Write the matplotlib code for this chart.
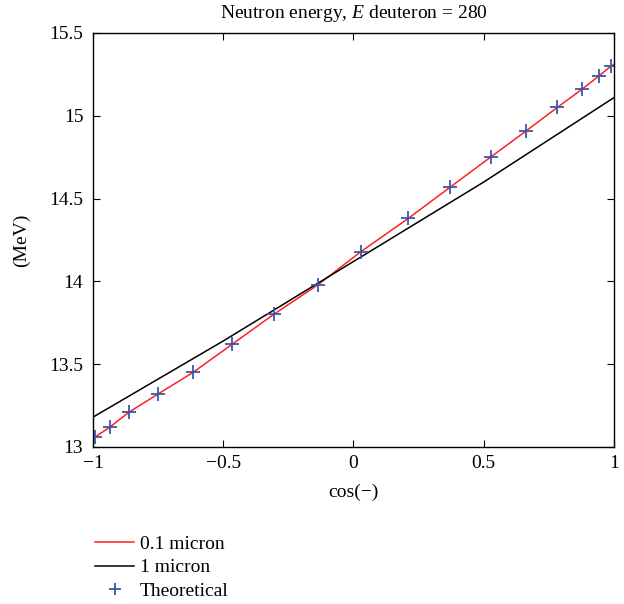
import numpy as np
from matplotlib import pyplot as plt

plt.rcParams['font.family'] = ['Liberation Serif', 'DejaVu Serif']
plt.rcParams['mathtext.fontset'] = 'custom'
plt.rcParams['mathtext.it'] = 'Liberation Serif:italic'
plt.rcParams['mathtext.rm'] = 'Liberation Serif'

# theoretical points (cos of angle, neutron energy in MeV)
cos_theo = [-0.992, -0.935, -0.862, -0.750, -0.616, -0.466, -0.307, -0.136, 0.029,
            0.210, 0.372, 0.526, 0.664, 0.782, 0.877, 0.942, 0.988]
E_theo = [13.06, 13.12, 13.21, 13.32, 13.45, 13.62, 13.80, 13.98, 14.18,
          14.38, 14.57, 14.75, 14.91, 15.05, 15.16, 15.24, 15.30]

# 0.1 micron target
cos_thin = [-1.0] + cos_theo + [1.0]
E_thin = [13.05] + E_theo + [15.31]

# 1 micron target
cos_thick = [-1.0, -0.5, 0.0, 0.5, 1.0]
E_thick = [13.18, 13.64, 14.12, 14.60, 15.11]

fs = 14

fig = plt.figure(figsize=(6.24, 6.04), dpi=100)
ax = fig.add_axes([0.149, 0.260, 0.835, 0.6854])

l1, = ax.plot(cos_thin, E_thin, color='#ff2020', lw=1.1, label='0.1 micron')
l2, = ax.plot(cos_thick, E_thick, color='black', lw=1.1, label='1 micron')
l3, = ax.plot(cos_theo, E_theo, ls='none', marker='+', ms=10, mew=1.3,
              color='#3a56a8', label='Theoretical')

ax.set_xlim(-1, 1)
ax.set_ylim(13, 15.5)
ax.set_xticks([-1, -0.5, 0, 0.5, 1])
ax.set_xticklabels(['\u22121', '\u22120.5', '0', '0.5', '1'])
ax.set_yticks([13, 13.5, 14, 14.5, 15, 15.5])
ax.set_yticklabels(['13', '13.5', '14', '14.5', '15', '15.5'])
ax.tick_params(direction='in', top=True, right=True, length=5, labelsize=fs)
ax.tick_params(axis='y', pad=7)
ax.tick_params(axis='x', pad=6)
for s in ax.spines.values():
    s.set_linewidth(1.0)

ax.set_title('Neutron energy, $E$ deuteron = 280', fontsize=fs, pad=11)
ax.set_xlabel('cos(\u2212)', fontsize=fs, labelpad=8)
ax.set_ylabel('(MeV)', fontsize=fs, labelpad=14)

fig.legend(handles=[l1, l2, l3], loc='upper left', bbox_to_anchor=(0.140, 0.1265),
           frameon=False, fontsize=fs, handlelength=2.0, handletextpad=0.3,
           labelspacing=0.3, borderaxespad=0, markerscale=0.8)

fig.savefig('out.png', dpi=100)
